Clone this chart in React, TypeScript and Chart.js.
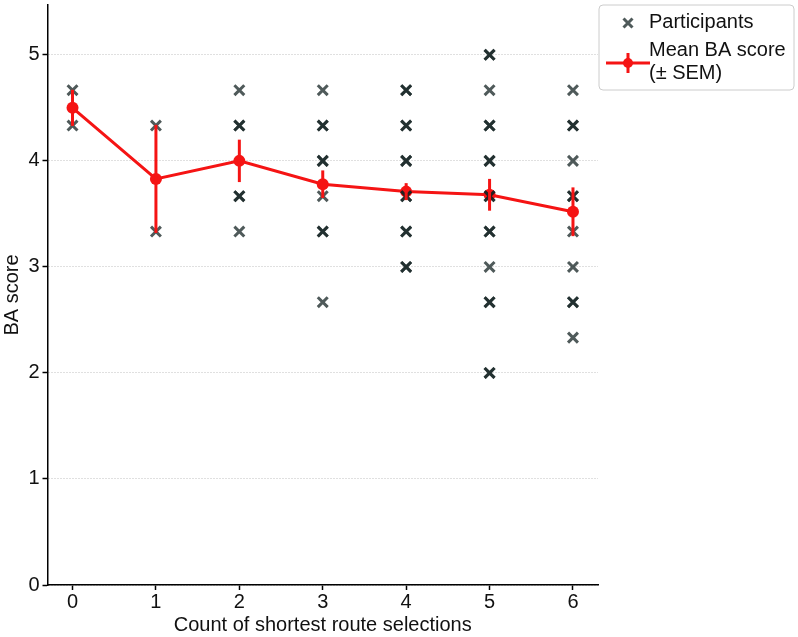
import React, { useEffect, useRef } from "react";
import { Chart, registerables } from "chart.js";

Chart.register(...registerables);

// ---- data ----
const xCategories = [0, 1, 2, 3, 4, 5, 6];
const scoresAt0 = [4.667, 4.333];
const scoresAt1 = [4.333, 3.333];
const scoresAt2 = [4.667, 4.333, 4.333, 3.667, 3.667, 3.333];
const scoresAt3 = [4.667, 4.333, 4.333, 4.0, 4.0, 3.667, 3.333, 3.333, 2.667];
const scoresAt4 = [4.667, 4.667, 4.333, 4.333, 4.0, 4.0, 3.667, 3.667, 3.333, 3.333, 3.0, 3.0];
const scoresAt5 = [5.0, 5.0, 4.667, 4.333, 4.333, 4.0, 4.0, 3.667, 3.667, 3.333, 3.333, 3.0, 2.667, 2.667, 2.0, 2.0];
const scoresAt6 = [4.667, 4.333, 4.333, 4.0, 3.667, 3.667, 3.333, 3.0, 2.667, 2.667, 2.333];
const participantScores = [scoresAt0, scoresAt1, scoresAt2, scoresAt3, scoresAt4, scoresAt5, scoresAt6];
const meanScores = [4.5, 3.83, 4.0, 3.78, 3.71, 3.68, 3.52];
const semScores = [0.17, 0.51, 0.2, 0.13, 0.08, 0.15, 0.23];
const xTickValues = [0, 1, 2, 3, 4, 5, 6];
const yTickValues = [0, 1, 2, 3, 4, 5];
const legendLabels = ["Participants", ["Mean BA score", "(± SEM)"]];
const xTitle = "Count of shortest route selections";
const yTitle = "BA score";

const FONT = '"Liberation Sans", Arial, Helvetica, sans-serif';
const RED = "rgb(245, 20, 20)";
const MARK = "rgba(20, 35, 35, 0.75)";

const errorBarPlugin = {
  id: "errorBars",
  afterDatasetsDraw(chart: any) {
    const { ctx, scales } = chart;
    const x = scales.x;
    const y = scales.y;
    ctx.save();
    ctx.strokeStyle = RED;
    ctx.lineWidth = 3;
    xCategories.forEach((c, i) => {
      const px = x.getPixelForValue(c);
      ctx.beginPath();
      ctx.moveTo(px, y.getPixelForValue(meanScores[i] - semScores[i]));
      ctx.lineTo(px, y.getPixelForValue(meanScores[i] + semScores[i]));
      ctx.stroke();
    });
    ctx.restore();
  },
};

const legendPlugin = {
  id: "boxLegend",
  afterDraw(chart: any) {
    const { ctx, chartArea } = chart;
    const left = chartArea.right + 1;
    const top = chartArea.top;
    const w = 195;
    const h = 85;
    ctx.save();
    const r = 4;
    ctx.beginPath();
    ctx.moveTo(left + r, top);
    ctx.lineTo(left + w - r, top);
    ctx.arcTo(left + w, top, left + w, top + r, r);
    ctx.lineTo(left + w, top + h - r);
    ctx.arcTo(left + w, top + h, left + w - r, top + h, r);
    ctx.lineTo(left + r, top + h);
    ctx.arcTo(left, top + h, left, top + h - r, r);
    ctx.lineTo(left, top + r);
    ctx.arcTo(left, top, left + r, top, r);
    ctx.closePath();
    ctx.fillStyle = "rgba(255,255,255,0.85)";
    ctx.fill();
    ctx.strokeStyle = "#cccccc";
    ctx.lineWidth = 1;
    ctx.stroke();

    // participants marker
    const mx = left + 29;
    const my = top + 18;
    ctx.strokeStyle = MARK;
    ctx.lineWidth = 3;
    const d = 4.5;
    ctx.beginPath();
    ctx.moveTo(mx - d, my - d);
    ctx.lineTo(mx + d, my + d);
    ctx.moveTo(mx - d, my + d);
    ctx.lineTo(mx + d, my - d);
    ctx.stroke();

    // mean marker
    const ly = top + 58;
    ctx.strokeStyle = RED;
    ctx.lineWidth = 3;
    ctx.beginPath();
    ctx.moveTo(left + 7, ly);
    ctx.lineTo(left + 51, ly);
    ctx.moveTo(mx, ly - 10);
    ctx.lineTo(mx, ly + 10);
    ctx.stroke();
    ctx.fillStyle = RED;
    ctx.beginPath();
    ctx.arc(mx, ly, 5, 0, Math.PI * 2);
    ctx.fill();

    // texts
    ctx.fillStyle = "#111";
    ctx.font = `20px ${FONT}`;
    ctx.textBaseline = "middle";
    ctx.textAlign = "left";
    ctx.fillText(legendLabels[0] as string, left + 50, top + 17);
    const lines = legendLabels[1] as string[];
    ctx.fillText(lines[0], left + 50, top + 45);
    ctx.fillText(lines[1], left + 50, top + 68);
    ctx.restore();
  },
};

export default function App() {
  const canvasRef = useRef<HTMLCanvasElement | null>(null);

  useEffect(() => {
    if (!canvasRef.current) return;
    const scatterPoints: { x: number; y: number }[] = [];
    participantScores.forEach((list, i) => {
      list.forEach((v) => scatterPoints.push({ x: xCategories[i], y: v }));
    });
    const meanPoints = xCategories.map((c, i) => ({ x: c, y: meanScores[i] }));

    const chart = new Chart(canvasRef.current, {
      type: "scatter",
      data: {
        datasets: [
          {
            label: "Participants",
            data: scatterPoints,
            pointStyle: "crossRot",
            pointRadius: 7,
            pointBorderWidth: 3,
            borderColor: MARK,
            backgroundColor: MARK,
          },
          {
            label: "Mean BA score (± SEM)",
            data: meanPoints,
            showLine: true,
            borderColor: RED,
            borderWidth: 3,
            backgroundColor: RED,
            pointBackgroundColor: RED,
            pointBorderColor: RED,
            pointRadius: 6,
            pointBorderWidth: 0,
          },
        ],
      },
      options: {
        animation: false,
        responsive: false,
        events: [],
        layout: { autoPadding: false, padding: { top: 5, right: 200, left: 0, bottom: 0 } },
        plugins: {
          legend: { display: false },
          tooltip: { enabled: false },
        },
        scales: {
          x: {
            type: "linear",
            min: -0.3,
            max: 6.3,
            afterBuildTicks: (scale: any) => {
              scale.ticks = xTickValues.map((v) => ({ value: v }));
            },
            afterFit: (scale: any) => {
              scale.height = 52;
              scale.paddingLeft = 0;
              scale.paddingRight = 0;
            },
            grid: {
              display: true,
              drawOnChartArea: false,
              drawTicks: true,
              tickLength: 5,
              tickColor: "#000",
              tickWidth: 1.5,
            },
            border: { display: true, color: "#000", width: 1.5 },
            ticks: {
              color: "#111",
              font: { family: FONT, size: 20 },
              padding: 0,
            },
            title: {
              display: true,
              text: xTitle,
              color: "#111",
              font: { family: FONT, size: 20 },
              padding: { top: 0, bottom: 0 },
            },
          },
          y: {
            type: "linear",
            min: 0,
            max: 5.47,
            afterBuildTicks: (scale: any) => {
              scale.ticks = yTickValues.map((v) => ({ value: v }));
            },
            afterFit: (scale: any) => {
              scale.width = 47.5;
              scale.paddingTop = 0;
              scale.paddingBottom = 0;
            },
            grid: {
              display: true,
              drawOnChartArea: true,
              color: "#b0b0b0",
              lineWidth: 0.8,
              tickLength: 5,
              tickColor: "#000",
              tickWidth: 1.5,
              tickBorderDash: [],
            },
            border: { display: true, color: "#000", width: 1.5, dash: [1, 2] },
            ticks: {
              color: "#111",
              font: { family: FONT, size: 20 },
              padding: 3,
            },
            title: {
              display: true,
              text: yTitle,
              color: "#111",
              font: { family: FONT, size: 20 },
              padding: { top: 0, bottom: 0 },
            },
          },
        },
      },
      plugins: [errorBarPlugin, legendPlugin],
    } as any);

    return () => chart.destroy();
  }, []);

  return (
    <div style={{ position: "fixed", left: 0, top: 0, width: 798, height: 637, background: "#fff" }}>
      <canvas ref={canvasRef} width={798} height={637} style={{ display: "block" }} />
    </div>
  );
}
